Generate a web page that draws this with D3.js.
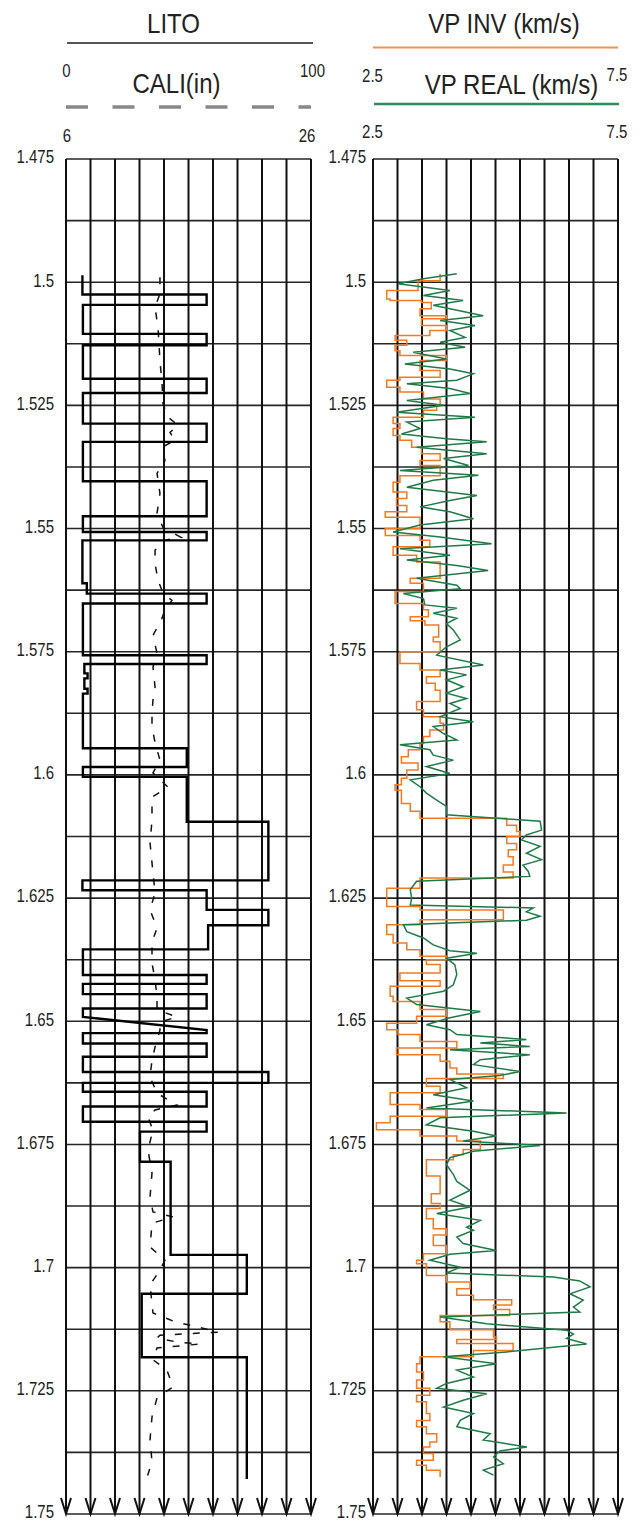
<!DOCTYPE html>
<html>
<head>
<meta charset="utf-8">
<script src="https://cdn.jsdelivr.net/npm/d3@7"></script>
<style>
body { margin: 0; background: #fff; }
svg { display: block; }
text { font-family: "Liberation Sans", Arial, sans-serif; fill: #222; }
</style>
</head>
<body>
<svg id="logplot" width="643" height="1522"></svg>
<script>

// depth axis
var depthLabels = [1.475, 1.5, 1.525, 1.55, 1.575, 1.6, 1.625, 1.65, 1.675, 1.7, 1.725, 1.75];
var gridDepths = [1.475, 1.4875, 1.5, 1.5125, 1.525, 1.5375, 1.55, 1.5625, 1.575, 1.5875, 1.6, 1.6125,
  1.625, 1.6375, 1.65, 1.6625, 1.675, 1.6875, 1.7, 1.7125, 1.725, 1.7375, 1.75];
var litoTicks = [0, 10, 20, 30, 40, 50, 60, 70, 80, 90, 100];
var vpTicks = [2.5, 3, 3.5, 4, 4.5, 5, 5.5, 6, 6.5, 7, 7.5];

// LITO (0-100), corner points of the step curve
var litoDepth = [1.4986, 1.5025, 1.5025, 1.5046, 1.5046, 1.5105, 1.5105, 1.5128, 1.5128, 1.5196, 1.5196, 1.5225, 1.5225,
  1.5287, 1.5287, 1.5324, 1.5324, 1.5404, 1.5404, 1.5475, 1.5475, 1.5507, 1.5507, 1.5524, 1.5524, 1.5611, 1.5611,
  1.5632, 1.5632, 1.5652, 1.5652, 1.5757, 1.5757, 1.5775, 1.5775, 1.5794, 1.5794, 1.5804, 1.5804, 1.5825, 1.5825,
  1.5835, 1.5835, 1.5946, 1.5946, 1.5984, 1.5984, 1.6004, 1.6004, 1.6095, 1.6095, 1.6214, 1.6214, 1.6234, 1.6234,
  1.6274, 1.6274, 1.6305, 1.6305, 1.6354, 1.6354, 1.6406, 1.6406, 1.6424, 1.6424, 1.6445, 1.6445, 1.6474, 1.6474,
  1.6491, 1.6518, 1.6524, 1.6524, 1.6545, 1.6545, 1.6572, 1.6572, 1.6603, 1.6603, 1.6625, 1.6625, 1.6643, 1.6643,
  1.6673, 1.6673, 1.6704, 1.6704, 1.6724, 1.6724, 1.6785, 1.6785, 1.6974, 1.6974, 1.7053, 1.7053, 1.7182, 1.7182, 1.7429];
var litoValue = [6.7, 6.7, 57.4, 57.4, 6.9, 6.9, 57.4, 57.4, 6.9, 6.9, 57.4, 57.4, 6.9,
  6.9, 57.4, 57.4, 6.9, 6.9, 57.4, 57.4, 6.9, 6.9, 57.4, 57.4, 6.7, 6.7, 8.5,
  8.5, 57.4, 57.4, 6.9, 6.9, 57.4, 57.4, 7.5, 7.5, 8.8, 8.8, 7.5, 7.5, 8.8,
  8.8, 6.9, 6.9, 49.3, 49.3, 6.9, 6.9, 49.3, 49.3, 82.6, 82.6, 6.7, 6.7, 57.4,
  57.4, 82.6, 82.6, 58, 58, 6.9, 6.9, 57.4, 57.4, 6.9, 6.9, 57.4, 57.4, 6.9,
  6.9, 57.4, 57.4, 6.9, 6.9, 57.4, 57.4, 6.9, 6.9, 82.6, 82.6, 6.9, 6.9, 57.4,
  57.4, 6.9, 6.9, 57.4, 57.4, 30.2, 30.2, 42.7, 42.7, 73.8, 73.8, 30.9, 30.9, 73.8, 73.8];

// CALI (in), 6-26
var caliDepth = [1.499, 1.5023, 1.5051, 1.5092, 1.5159, 1.5206, 1.5247, 1.5274, 1.529, 1.5305, 1.5321, 1.5335, 1.5362,
  1.5388, 1.5429, 1.5469, 1.5498, 1.5518, 1.5524, 1.5544, 1.5571, 1.5605, 1.5631, 1.5646, 1.5658, 1.567, 1.5682,
  1.5717, 1.5753, 1.5781, 1.5822, 1.5848, 1.5875, 1.5903, 1.5934, 1.597, 1.5996, 1.6025, 1.6045, 1.6092, 1.6138,
  1.6199, 1.6239, 1.6274, 1.6311, 1.6339, 1.6382, 1.6416, 1.6451, 1.6477, 1.6491, 1.6502, 1.6518, 1.6552, 1.6579,
  1.6613, 1.6646, 1.667, 1.668, 1.6694, 1.6721, 1.6761, 1.6808, 1.6857, 1.6887, 1.6897, 1.691, 1.6958, 1.6985,
  1.7011, 1.7035, 1.7092, 1.711, 1.712, 1.7131, 1.7137, 1.7143, 1.7151, 1.7155, 1.7163, 1.7187, 1.7208, 1.7242,
  1.7264, 1.7303, 1.7349, 1.7394, 1.7426];
var caliValue = [13.67, 13.67, 13.27, 13.51, 13.67, 13.84, 13.92, 14.33, 15.14, 14.49, 14.9, 13.84, 14.08,
  13.43, 13.67, 13.43, 13.92, 15.39, 13.92, 13.27, 13.27, 13.51, 13.92, 14.65, 14.33, 14.0, 13.84,
  13.1, 13.43, 13.1, 13.27, 13.1, 13.02, 13.02, 13.27, 13.67, 13.1, 14.33, 13.02, 13.02, 12.86,
  13.1, 13.27, 12.86, 13.43, 13.02, 13.02, 13.27, 13.43, 13.43, 15.06, 13.67, 13.67, 13.27, 13.02,
  12.86, 13.43, 15.06, 13.27, 12.69, 13.1, 12.69, 13.02, 12.86, 13.1, 14.73, 13.02, 12.86, 14.08,
  13.51, 12.86, 13.1, 14.9, 16.69, 18.41, 13.67, 13.43, 15.06, 16.94, 13.43, 13.1, 14.24, 14.73,
  13.43, 13.02, 12.86, 13.02, 12.61];

// VP INV (km/s): value starting at each depth
var invDepth = [1.4983, 1.4997, 1.5017, 1.5034, 1.5037, 1.5041, 1.5054, 1.5068, 1.5074, 1.5088, 1.5098, 1.5108, 1.5118,
  1.5128, 1.5139, 1.5149, 1.5159, 1.5179, 1.5193, 1.5199, 1.5213, 1.5223, 1.5237, 1.525, 1.526, 1.5274, 1.5287,
  1.5297, 1.5311, 1.5321, 1.5335, 1.5348, 1.5362, 1.5372, 1.5393, 1.5406, 1.5426, 1.5439, 1.5453, 1.5466, 1.5477,
  1.55, 1.5514, 1.5524, 1.5537, 1.5554, 1.5568, 1.5601, 1.5611, 1.5628, 1.5652, 1.5665, 1.5679, 1.5687, 1.5696,
  1.572, 1.573, 1.575, 1.5774, 1.5787, 1.5801, 1.5814, 1.5828, 1.5851, 1.5868, 1.5882, 1.5895, 1.5909, 1.5922,
  1.5936, 1.5949, 1.5963, 1.5976, 1.599, 1.6007, 1.602, 1.6031, 1.6058, 1.6074, 1.6088, 1.6102, 1.6115, 1.6125,
  1.6139, 1.6152, 1.6166, 1.6183, 1.6197, 1.6209, 1.623, 1.6267, 1.6274, 1.6294, 1.6304, 1.6324, 1.6341, 1.6355,
  1.6368, 1.6375, 1.6385, 1.6402, 1.6418, 1.6429, 1.6449, 1.646, 1.6476, 1.649, 1.6504, 1.6517, 1.6527, 1.6541,
  1.6554, 1.6568, 1.6581, 1.6595, 1.6607, 1.6616, 1.6632, 1.6645, 1.6669, 1.6679, 1.6693, 1.6706, 1.672, 1.6733,
  1.6743, 1.676, 1.6771, 1.6781, 1.6814, 1.685, 1.687, 1.688, 1.6901, 1.6921, 1.6934, 1.6955, 1.6972, 1.6985,
  1.6992, 1.7016, 1.7029, 1.7043, 1.7056, 1.7065, 1.7076, 1.7085, 1.7097, 1.711, 1.7126, 1.7141, 1.7146, 1.7154,
  1.7168, 1.7181, 1.7195, 1.7212, 1.7228, 1.7245, 1.7259, 1.7272, 1.7296, 1.731, 1.7323, 1.7337, 1.7354, 1.7364,
  1.7377, 1.7391, 1.7401, 1.7411, 1.7425];
var invVp = [3.87, 3.42, 2.78, 2.85, 3.49, 3.69, 3.46, 4.0, 3.49, 4.0, 3.66, 2.95, 3.19,
  2.95, 3.05, 4.0, 3.46, 3.87, 3.05, 2.78, 3.05, 3.53, 3.87, 3.8, 3.53, 2.91, 3.05,
  2.91, 3.05, 3.29, 3.49, 3.87, 3.46, 3.87, 3.05, 2.91, 3.19, 2.98, 3.19, 2.75, 3.46,
  2.75, 3.46, 3.66, 2.91, 3.39, 3.87, 3.26, 3.53, 2.95, 3.53, 3.63, 3.26, 3.56, 3.84,
  3.73, 3.87, 3.05, 3.46, 3.87, 3.59, 3.77, 3.87, 3.39, 3.53, 3.87, 3.94, 3.66, 3.53,
  3.46, 3.22, 3.08, 3.42, 3.19, 3.08, 2.95, 3.08, 3.26, 3.46, 5.23, 5.43, 5.5, 5.23,
  5.43, 5.26, 5.36, 5.16, 5.36, 3.46, 2.78, 3.46, 5.16, 3.46, 2.78, 2.91, 3.19, 3.46,
  4.0, 3.59, 3.87, 3.05, 3.87, 2.85, 2.91, 3.46, 4.0, 3.39, 2.78, 3.01, 3.46, 4.21,
  2.98, 3.87, 4.07, 4.21, 5.16, 3.59, 3.87, 2.85, 3.46, 4.0, 2.85, 2.57, 3.46, 4.21,
  4.69, 4.34, 4.14, 3.59, 3.87, 3.69, 3.87, 3.59, 3.73, 4.0, 3.73, 4.0, 3.53, 3.39,
  3.59, 4.0, 4.48, 4.21, 4.55, 5.33, 4.96, 5.29, 3.87, 4.07, 4.96, 5.02, 4.21, 5.36,
  4.55, 3.46, 3.39, 3.53, 3.39, 3.66, 3.39, 3.59, 3.66, 3.39, 3.59, 3.8, 3.66, 3.53,
  3.73, 3.39, 3.59, 3.87, 3.87];

// VP REAL (km/s)
var realDepth = [1.4983, 1.4993, 1.5003, 1.5017, 1.5027, 1.5037, 1.5047, 1.5068, 1.5078, 1.5088, 1.5098, 1.5112, 1.5122,
  1.5132, 1.5142, 1.5156, 1.5166, 1.5176, 1.5186, 1.5199, 1.5206, 1.5216, 1.5226, 1.524, 1.525, 1.5264, 1.5274,
  1.5284, 1.5297, 1.5308, 1.5318, 1.5324, 1.5335, 1.5348, 1.5358, 1.5372, 1.5382, 1.5392, 1.5402, 1.5416, 1.5433,
  1.5443, 1.5456, 1.5466, 1.548, 1.5493, 1.5507, 1.5517, 1.5531, 1.5541, 1.5554, 1.5564, 1.5575, 1.5585, 1.5601,
  1.5615, 1.5622, 1.5632, 1.5642, 1.5655, 1.5662, 1.5672, 1.5682, 1.5693, 1.5706, 1.5726, 1.574, 1.5757, 1.5777,
  1.5787, 1.5797, 1.5807, 1.5821, 1.5834, 1.5845, 1.5855, 1.5865, 1.5882, 1.5892, 1.5902, 1.5916, 1.5929, 1.5939,
  1.5949, 1.596, 1.597, 1.5983, 1.5997, 1.601, 1.6024, 1.6037, 1.6051, 1.6064, 1.6081, 1.6088, 1.6094, 1.6112,
  1.6122, 1.6132, 1.6145, 1.6159, 1.6172, 1.6183, 1.6196, 1.6206, 1.6216, 1.6233, 1.625, 1.6264, 1.627, 1.6278,
  1.6287, 1.6295, 1.6304, 1.6318, 1.6331, 1.6345, 1.6357, 1.6362, 1.6372, 1.6385, 1.6405, 1.6426, 1.6439, 1.6453,
  1.6466, 1.648, 1.6493, 1.6507, 1.6517, 1.6527, 1.6537, 1.6544, 1.6551, 1.6558, 1.6568, 1.6578, 1.6588, 1.6602,
  1.661, 1.6618, 1.6635, 1.6649, 1.6662, 1.6676, 1.6686, 1.6696, 1.671, 1.6723, 1.6733, 1.6743, 1.6752, 1.6764,
  1.6777, 1.6791, 1.6811, 1.6825, 1.6843, 1.6863, 1.6877, 1.689, 1.6904, 1.6918, 1.6924, 1.6938, 1.6951, 1.6965,
  1.6973, 1.6985, 1.6999, 1.7011, 1.7019, 1.7027, 1.7039, 1.7053, 1.7066, 1.708, 1.709, 1.71, 1.7114, 1.7127,
  1.7135, 1.7144, 1.7155, 1.7171, 1.7181, 1.7195, 1.7208, 1.7222, 1.7235, 1.7245, 1.7256, 1.7269, 1.7283, 1.7296,
  1.731, 1.7323, 1.7337, 1.735, 1.7364, 1.7372, 1.7384, 1.7398, 1.7411, 1.7421];
var realVp = [4.21, 3.53, 3.01, 4.07, 3.53, 4.34, 3.73, 4.75, 3.87, 4.58, 4.07, 4.38, 3.87,
  4.38, 3.32, 4.0, 3.15, 4.07, 4.55, 4.21, 3.19, 4.07, 4.48, 3.19, 3.94, 2.98, 4.58,
  3.19, 3.46, 3.08, 4.0, 4.82, 3.39, 4.82, 3.94, 4.45, 3.05, 4.65, 3.73, 3.19, 4.62,
  4.07, 3.46, 4.07, 4.55, 3.46, 2.91, 3.87, 4.92, 3.05, 4.07, 3.19, 4.21, 4.85, 3.39,
  4.21, 4.28, 3.12, 3.53, 3.56, 4.21, 3.73, 4.21, 4.0, 4.14, 4.28, 4.0, 3.8, 4.75,
  3.87, 4.41, 4.0, 4.34, 4.0, 4.41, 4.07, 4.28, 3.87, 4.55, 3.73, 3.94, 4.21, 3.05,
  3.66, 3.73, 4.14, 3.59, 4.07, 3.26, 3.46, 3.59, 3.8, 4.0, 4.0, 5.02, 5.91, 5.94,
  5.63, 5.53, 5.91, 5.63, 5.94, 5.56, 5.67, 5.7, 3.39, 3.26, 3.29, 3.26, 5.77, 5.63,
  5.91, 5.63, 3.12, 3.19, 3.53, 3.73, 4.07, 4.62, 4.0, 4.17, 4.21, 4.14, 3.94, 3.19,
  3.39, 4.69, 4.07, 3.59, 4.07, 4.21, 5.63, 4.69, 5.7, 4.07, 5.7, 4.69, 4.55, 5.5,
  5.09, 4.07, 4.41, 3.73, 4.55, 3.59, 6.45, 3.87, 3.59, 4.55, 5.02, 4.34, 5.91, 4.55,
  4.07, 4.0, 4.14, 4.21, 4.48, 4.07, 4.48, 3.8, 4.69, 4.41, 4.55, 4.21, 4.34, 5.02,
  4.07, 3.66, 4.28, 4.0, 6.18, 6.72, 6.93, 6.52, 6.79, 6.59, 6.72, 3.87, 4.82, 6.45,
  6.59, 6.45, 6.86, 5.23, 3.94, 5.02, 4.21, 4.55, 4.0, 3.8, 4.82, 4.34, 3.94, 4.55,
  4.28, 4.21, 4.89, 4.75, 5.64, 5.09, 4.96, 5.16, 4.75, 4.96];

var svg = d3.select("#logplot");

var y = d3.scaleLinear().domain([1.475, 1.75]).range([159, 1514]);
var litoX = d3.scaleLinear().domain([0, 100]).range([66, 311]);
var caliX = d3.scaleLinear().domain([6, 26]).range([66, 311]);
var vpX = d3.scaleLinear().domain([2.5, 7.5]).range([373, 618]);

function zipPts(ds, vs) {
  return ds.map(function(d, i) { return {d: d, v: vs[i]}; });
}

// stretched text, the source picture is squeezed horizontally
function label(x, yb, str, size, sy) {
  svg.append("text")
    .attr("transform", "translate(" + x + "," + yb + ") scale(1," + sy + ")")
    .attr("text-anchor", "middle")
    .style("font-size", size + "px")
    .text(str);
}

function drawTrack(x, ticks, pad) {
  var g = svg.append("g");
  var x0 = x.range()[0], x1 = x.range()[1];
  g.selectAll(".hgrid").data(gridDepths).enter().append("line")
    .attr("x1", x0).attr("x2", x1)
    .attr("y1", function(d) { return y(d); })
    .attr("y2", function(d) { return y(d); })
    .attr("stroke", "#262626").attr("stroke-width", 1.6);
  g.selectAll(".vgrid").data(ticks).enter().append("line")
    .attr("x1", function(d) { return x(d); })
    .attr("x2", function(d) { return x(d); })
    .attr("y1", y(1.475)).attr("y2", y(1.75))
    .attr("stroke", "#111").attr("stroke-width", 2);
  // arrows at the bottom of each line
  g.selectAll(".arrow").data(ticks).enter().append("path")
    .attr("d", function(d) {
      var xx = x(d), yy = y(1.75);
      return "M" + (xx - 5) + "," + (yy - 16) + "L" + xx + "," + yy + "L" + (xx + 5) + "," + (yy - 16);
    })
    .attr("fill", "none").attr("stroke", "#111").attr("stroke-width", 2);

  var ax = svg.append("g")
    .attr("transform", "translate(" + x0 + ",0)")
    .call(d3.axisLeft(y).tickValues(depthLabels).tickSize(0).tickPadding(pad).tickFormat(d3.format("")));
  ax.select(".domain").remove();
  ax.selectAll("text")
    .attr("dy", "0.2em")
    .attr("transform", "scale(1,1.28)")
    .style("font-size", "15px")
    .style("font-family", "'Liberation Sans', Arial, sans-serif")
    .attr("fill", "#222");
  return g;
}

var left = drawTrack(litoX, litoTicks, 12);
var right = drawTrack(vpX, vpTicks, 7);

// CALI dashed
left.append("path")
  .datum(zipPts(caliDepth, caliValue))
  .attr("d", d3.line().x(function(d) { return caliX(d.v); }).y(function(d) { return y(d.d); }))
  .attr("fill", "none").attr("stroke", "#111").attr("stroke-width", 1.5)
  .attr("stroke-dasharray", "7,11");

// LITO
left.append("path")
  .datum(zipPts(litoDepth, litoValue))
  .attr("d", d3.line().x(function(d) { return litoX(d.v); }).y(function(d) { return y(d.d); }))
  .attr("fill", "none").attr("stroke", "#000").attr("stroke-width", 2.4);

// VP INV (blocky)
right.append("path")
  .datum(zipPts(invDepth, invVp))
  .attr("d", d3.line().x(function(d) { return vpX(d.v); }).y(function(d) { return y(d.d); }).curve(d3.curveStepBefore))
  .attr("fill", "none").attr("stroke", "#f47a22").attr("stroke-width", 1.5);

// VP REAL
right.append("path")
  .datum(zipPts(realDepth, realVp))
  .attr("d", d3.line().x(function(d) { return vpX(d.v); }).y(function(d) { return y(d.d); }))
  .attr("fill", "none").attr("stroke", "#1f7a48").attr("stroke-width", 1.5);

// headers
label(173.5, 33, "LITO", 24, 1.13);
svg.append("line").attr("x1", litoX(0) + 1).attr("x2", litoX(100) + 2).attr("y1", 43).attr("y2", 43)
  .attr("stroke", "#555").attr("stroke-width", 2);
label(66.5, 77, "0", 15, 1.25);
label(312.5, 77, "100", 15, 1.25);
label(176.5, 93, "CALI(in)", 24, 1.13);
svg.append("line").attr("x1", caliX(6)).attr("x2", caliX(26)).attr("y1", 107).attr("y2", 107)
  .attr("stroke", "#888").attr("stroke-width", 3.5).attr("stroke-dasharray", "22,24.5");
label(67, 142, "6", 15, 1.25);
label(307, 142, "26", 15, 1.25);

label(504, 33, "VP INV (km/s)", 24, 1.13);
svg.append("line").attr("x1", vpX(2.5)).attr("x2", vpX(7.5)).attr("y1", 47.5).attr("y2", 47.5)
  .attr("stroke", "#f5924a").attr("stroke-width", 2);
label(372.5, 82, "2.5", 15, 1.25);
label(617, 81, "7.5", 15, 1.25);
label(511.5, 94, "VP REAL (km/s)", 24, 1.13);
svg.append("line").attr("x1", vpX(2.5) + 1).attr("x2", vpX(7.5) + 1).attr("y1", 104).attr("y2", 104)
  .attr("stroke", "#2f8a5e").attr("stroke-width", 2.5);
label(372.5, 138, "2.5", 15, 1.25);
label(617, 138, "7.5", 15, 1.25);

</script>
</body>
</html>
